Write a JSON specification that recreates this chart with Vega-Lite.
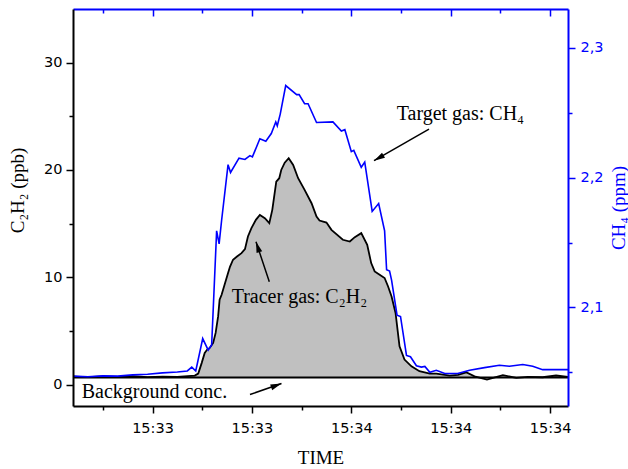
{
  "$schema": "https://vega.github.io/schema/vega-lite/v6.json",
  "width": 495,
  "height": 397,
  "autosize": "none",
  "padding": {"left": 73, "top": 9, "right": 60, "bottom": 63},
  "background": "white",
  "config": {"view": {"stroke": null}, "font": "DejaVu Sans"},
  "resolve": {
    "scale": {"y": "independent"},
    "axis": {"x": "independent", "y": "independent"}
  },
  "layer": [
    {
      "data": {
        "values": [
          {"t": "15:33:04.000", "v": 0.74}, {"t": "15:33:07.000", "v": 0.70}, {"t": "15:33:10.000", "v": 0.76},
          {"t": "15:33:13.000", "v": 0.72}, {"t": "15:33:16.000", "v": 0.78}, {"t": "15:33:19.000", "v": 0.70},
          {"t": "15:33:22.000", "v": 0.74}, {"t": "15:33:25.000", "v": 0.72}, {"t": "15:33:28.500", "v": 0.84},
          {"t": "15:33:29.200", "v": 1.02}, {"t": "15:33:29.900", "v": 2.02}, {"t": "15:33:30.500", "v": 2.95},
          {"t": "15:33:31.000", "v": 3.26}, {"t": "15:33:31.500", "v": 3.41}, {"t": "15:33:32.200", "v": 3.88},
          {"t": "15:33:32.700", "v": 4.81}, {"t": "15:33:33.200", "v": 6.35}, {"t": "15:33:33.500", "v": 7.91},
          {"t": "15:33:33.900", "v": 8.37}, {"t": "15:33:34.600", "v": 9.46}, {"t": "15:33:35.200", "v": 10.39},
          {"t": "15:33:35.600", "v": 11.0}, {"t": "15:33:36.200", "v": 11.63}, {"t": "15:33:37.000", "v": 11.93},
          {"t": "15:33:37.900", "v": 12.25}, {"t": "15:33:38.600", "v": 12.62}, {"t": "15:33:39.200", "v": 13.8},
          {"t": "15:33:39.900", "v": 14.58}, {"t": "15:33:40.800", "v": 15.35}, {"t": "15:33:41.600", "v": 15.81},
          {"t": "15:33:42.600", "v": 15.51}, {"t": "15:33:43.500", "v": 15.04}, {"t": "15:33:44.100", "v": 16.28},
          {"t": "15:33:44.900", "v": 18.91}, {"t": "15:33:45.500", "v": 19.23}, {"t": "15:33:45.900", "v": 20.0},
          {"t": "15:33:46.600", "v": 20.68}, {"t": "15:33:47.400", "v": 21.09}, {"t": "15:33:48.300", "v": 20.47},
          {"t": "15:33:49.300", "v": 19.23}, {"t": "15:33:50.600", "v": 18.14}, {"t": "15:33:52.000", "v": 16.9},
          {"t": "15:33:53.000", "v": 15.66}, {"t": "15:33:53.600", "v": 15.28}, {"t": "15:33:55.000", "v": 15.1},
          {"t": "15:33:56.000", "v": 14.42}, {"t": "15:33:58.300", "v": 13.49}, {"t": "15:33:59.700", "v": 13.33},
          {"t": "15:34:00.700", "v": 13.74}, {"t": "15:34:02.000", "v": 14.11}, {"t": "15:34:03.200", "v": 13.02},
          {"t": "15:34:04.000", "v": 11.32}, {"t": "15:34:04.700", "v": 10.54}, {"t": "15:34:05.700", "v": 10.23},
          {"t": "15:34:06.700", "v": 9.93}, {"t": "15:34:07.400", "v": 9.14}, {"t": "15:34:08.100", "v": 8.21},
          {"t": "15:34:08.900", "v": 6.67}, {"t": "15:34:09.700", "v": 3.56}, {"t": "15:34:10.700", "v": 2.33},
          {"t": "15:34:12.100", "v": 1.70}, {"t": "15:34:13.700", "v": 1.24}, {"t": "15:34:15.800", "v": 1.02},
          {"t": "15:34:17.100", "v": 1.02}, {"t": "15:34:19.800", "v": 0.84}, {"t": "15:34:21.500", "v": 0.90},
          {"t": "15:34:23.100", "v": 1.14}, {"t": "15:34:24.800", "v": 0.77}, {"t": "15:34:27.300", "v": 0.47},
          {"t": "15:34:30.500", "v": 0.87}, {"t": "15:34:33.200", "v": 0.62}, {"t": "15:34:35.500", "v": 0.72},
          {"t": "15:34:38.500", "v": 0.68}, {"t": "15:34:41.200", "v": 0.84}, {"t": "15:34:44.000", "v": 0.68}
        ],
        "format": {"parse": {"t": "date:'%H:%M:%S.%L'"}}
      },
      "mark": {"type": "area", "color": "#c0c0c0", "opacity": 1, "clip": true,
               "line": {"color": "black", "strokeWidth": 1.8}},
      "encoding": {
        "x": {
          "field": "t", "type": "temporal",
          "scale": {"domain": [
            {"year": 1900, "month": 1, "date": 1, "hours": 15, "minutes": 33, "seconds": 4},
            {"year": 1900, "month": 1, "date": 1, "hours": 15, "minutes": 34, "seconds": 43, "milliseconds": 600}
          ], "nice": false},
          "axis": {
            "orient": "bottom",
            "values": [
              {"year": 1900, "month": 1, "date": 1, "hours": 15, "minutes": 33, "seconds": 10},
              {"year": 1900, "month": 1, "date": 1, "hours": 15, "minutes": 33, "seconds": 20},
              {"year": 1900, "month": 1, "date": 1, "hours": 15, "minutes": 33, "seconds": 30},
              {"year": 1900, "month": 1, "date": 1, "hours": 15, "minutes": 33, "seconds": 40},
              {"year": 1900, "month": 1, "date": 1, "hours": 15, "minutes": 33, "seconds": 50},
              {"year": 1900, "month": 1, "date": 1, "hours": 15, "minutes": 34, "seconds": 0},
              {"year": 1900, "month": 1, "date": 1, "hours": 15, "minutes": 34, "seconds": 10},
              {"year": 1900, "month": 1, "date": 1, "hours": 15, "minutes": 34, "seconds": 20},
              {"year": 1900, "month": 1, "date": 1, "hours": 15, "minutes": 34, "seconds": 30},
              {"year": 1900, "month": 1, "date": 1, "hours": 15, "minutes": 34, "seconds": 40}
            ],
            "format": "%H:%M",
            "labelExpr": "seconds(datum.value) % 20 == 0 ? datum.label : ''",
            "tickSize": 7,
            "tickDash": {"condition": {"test": "seconds(datum.value) % 20 != 0", "value": [4, 10]}, "value": []},
            "tickColor": "black", "tickWidth": 1.5,
            "domainColor": "black", "domainWidth": 2,
            "labelFont": "DejaVu Sans", "labelFontSize": 14.5, "labelColor": "black",
            "labelPadding": 8, "labelOverlap": false, "labelFlush": false,
            "grid": false, "zindex": 1,
            "title": "TIME", "titleFont": "Liberation Serif", "titleFontSize": 19,
            "titleFontWeight": "normal", "titleColor": "black", "titlePadding": 14
          }
        },
        "y": {
          "field": "v", "type": "quantitative",
          "scale": {"domain": [-2, 35], "nice": false, "zero": false},
          "axis": {
            "orient": "left",
            "values": [0, 5, 10, 15, 20, 25, 30],
            "labelExpr": "datum.value % 10 == 0 ? datum.label : ''",
            "tickSize": 7,
            "tickDash": {"condition": {"test": "datum.value % 10 != 0", "value": [4, 10]}, "value": []},
            "tickColor": "black", "tickWidth": 1.5,
            "domainColor": "black", "domainWidth": 2,
            "labelFont": "DejaVu Sans", "labelFontSize": 14.5, "labelColor": "black",
            "labelPadding": 4, "labelOverlap": false, "labelFlush": false,
            "grid": false, "zindex": 1,
            "title": "C₂H₂ (ppb)", "titleFont": "Liberation Serif", "titleFontSize": 19,
            "titleFontWeight": "normal", "titleColor": "black", "titlePadding": 16, "titleY": 181
          }
        },
        "y2": {"datum": 0.65}
      }
    },
    {
      "data": {"values": [{"level": 0.65}]},
      "mark": {"type": "rule", "color": "black", "strokeWidth": 2},
      "encoding": {
        "y": {"field": "level", "type": "quantitative",
              "scale": {"domain": [-2, 35], "nice": false, "zero": false}, "axis": null}
      }
    },
    {
      "data": {
        "values": [
          {"t": "15:33:05.750", "v": -1.26, "label": "Background conc."},
          {"t": "15:33:35.930", "v": 7.57, "label": "Tracer gas: C₂H₂"},
          {"t": "15:34:09.130", "v": 24.65, "label": "Target gas: CH₄"}
        ],
        "format": {"parse": {"t": "date:'%H:%M:%S.%L'"}}
      },
      "mark": {"type": "text", "font": "Liberation Serif", "fontSize": 20, "align": "left", "baseline": "alphabetic", "color": "black"},
      "encoding": {
        "x": {"field": "t", "type": "temporal", "axis": null},
        "y": {"field": "v", "type": "quantitative",
              "scale": {"domain": [-2, 35], "nice": false, "zero": false}, "axis": null},
        "text": {"field": "label"}
      }
    },
    {
      "data": {
        "values": [
          {"name": "background", "t": "15:33:39.610", "v": -0.93, "t2": "15:33:45.950", "v2": 0.09},
          {"name": "tracer", "t": "15:33:43.500", "v": 9.58, "t2": "15:33:40.820", "v2": 13.31},
          {"name": "target", "t": "15:34:15.630", "v": 23.81, "t2": "15:34:04.560", "v2": 20.86}
        ],
        "format": {"parse": {"t": "date:'%H:%M:%S.%L'", "t2": "date:'%H:%M:%S.%L'"}}
      },
      "mark": {"type": "rule", "color": "black", "strokeWidth": 1.5},
      "encoding": {
        "x": {"field": "t", "type": "temporal", "axis": null},
        "y": {"field": "v", "type": "quantitative",
              "scale": {"domain": [-2, 35], "nice": false, "zero": false}, "axis": null},
        "x2": {"field": "t2"},
        "y2": {"field": "v2"}
      }
    },
    {
      "data": {"values": [{"t": "15:33:45.950", "v": 0.09}], "format": {"parse": {"t": "date:'%H:%M:%S.%L'"}}},
      "mark": {"type": "point", "shape": "M0,0L-0.27,1L0.27,1Z", "filled": true, "color": "black", "opacity": 1, "size": 484, "angle": 70},
      "encoding": {
        "x": {"field": "t", "type": "temporal", "axis": null},
        "y": {"field": "v", "type": "quantitative",
              "scale": {"domain": [-2, 35], "nice": false, "zero": false}, "axis": null}
      }
    },
    {
      "data": {"values": [{"t": "15:33:40.820", "v": 13.31}], "format": {"parse": {"t": "date:'%H:%M:%S.%L'"}}},
      "mark": {"type": "point", "shape": "M0,0L-0.27,1L0.27,1Z", "filled": true, "color": "black", "opacity": 1, "size": 484, "angle": 342},
      "encoding": {
        "x": {"field": "t", "type": "temporal", "axis": null},
        "y": {"field": "v", "type": "quantitative",
              "scale": {"domain": [-2, 35], "nice": false, "zero": false}, "axis": null}
      }
    },
    {
      "data": {"values": [{"t": "15:34:04.560", "v": 20.86}], "format": {"parse": {"t": "date:'%H:%M:%S.%L'"}}},
      "mark": {"type": "point", "shape": "M0,0L-0.27,1L0.27,1Z", "filled": true, "color": "black", "opacity": 1, "size": 484, "angle": 240},
      "encoding": {
        "x": {"field": "t", "type": "temporal", "axis": null},
        "y": {"field": "v", "type": "quantitative",
              "scale": {"domain": [-2, 35], "nice": false, "zero": false}, "axis": null}
      }
    },
    {
      "data": {
        "values": [
          {"t": "15:33:04.000", "v": 2.047}, {"t": "15:33:07.000", "v": 2.0465}, {"t": "15:33:10.000", "v": 2.0472},
          {"t": "15:33:13.000", "v": 2.047}, {"t": "15:33:16.000", "v": 2.048}, {"t": "15:33:19.000", "v": 2.0485},
          {"t": "15:33:22.000", "v": 2.0495}, {"t": "15:33:25.000", "v": 2.0502}, {"t": "15:33:27.000", "v": 2.051},
          {"t": "15:33:27.900", "v": 2.054}, {"t": "15:33:28.700", "v": 2.051}, {"t": "15:33:30.100", "v": 2.076},
          {"t": "15:33:31.200", "v": 2.067}, {"t": "15:33:31.900", "v": 2.071}, {"t": "15:33:32.900", "v": 2.159},
          {"t": "15:33:33.400", "v": 2.149}, {"t": "15:33:33.900", "v": 2.167}, {"t": "15:33:35.200", "v": 2.21},
          {"t": "15:33:35.700", "v": 2.204}, {"t": "15:33:37.400", "v": 2.215}, {"t": "15:33:38.600", "v": 2.214},
          {"t": "15:33:39.600", "v": 2.217}, {"t": "15:33:40.100", "v": 2.216}, {"t": "15:33:41.600", "v": 2.23},
          {"t": "15:33:42.800", "v": 2.228}, {"t": "15:33:43.900", "v": 2.234}, {"t": "15:33:44.800", "v": 2.243},
          {"t": "15:33:45.100", "v": 2.24}, {"t": "15:33:45.700", "v": 2.249}, {"t": "15:33:46.800", "v": 2.271},
          {"t": "15:33:49.000", "v": 2.264}, {"t": "15:33:49.500", "v": 2.264}, {"t": "15:33:50.600", "v": 2.257},
          {"t": "15:33:51.300", "v": 2.257}, {"t": "15:33:53.000", "v": 2.2425}, {"t": "15:33:56.300", "v": 2.243},
          {"t": "15:33:58.000", "v": 2.236}, {"t": "15:33:58.700", "v": 2.237}, {"t": "15:34:00.000", "v": 2.22},
          {"t": "15:34:00.500", "v": 2.221}, {"t": "15:34:02.000", "v": 2.208}, {"t": "15:34:02.700", "v": 2.212},
          {"t": "15:34:04.200", "v": 2.174}, {"t": "15:34:05.500", "v": 2.18}, {"t": "15:34:06.700", "v": 2.159},
          {"t": "15:34:07.100", "v": 2.129}, {"t": "15:34:07.700", "v": 2.128}, {"t": "15:34:08.100", "v": 2.121},
          {"t": "15:34:09.200", "v": 2.094}, {"t": "15:34:09.900", "v": 2.093}, {"t": "15:34:11.100", "v": 2.063},
          {"t": "15:34:11.900", "v": 2.062}, {"t": "15:34:13.100", "v": 2.055}, {"t": "15:34:14.100", "v": 2.054},
          {"t": "15:34:14.800", "v": 2.0545}, {"t": "15:34:15.800", "v": 2.05}, {"t": "15:34:17.100", "v": 2.0515},
          {"t": "15:34:18.800", "v": 2.049}, {"t": "15:34:21.400", "v": 2.049}, {"t": "15:34:23.800", "v": 2.0515},
          {"t": "15:34:26.800", "v": 2.0536}, {"t": "15:34:29.800", "v": 2.0554}, {"t": "15:34:31.800", "v": 2.0546},
          {"t": "15:34:34.500", "v": 2.056}, {"t": "15:34:36.500", "v": 2.0546}, {"t": "15:34:38.500", "v": 2.052},
          {"t": "15:34:44.000", "v": 2.052}
        ],
        "format": {"parse": {"t": "date:'%H:%M:%S.%L'"}}
      },
      "mark": {"type": "line", "color": "#0000ff", "strokeWidth": 1.6, "clip": true},
      "encoding": {
        "x": {
          "field": "t", "type": "temporal",
          "axis": {
            "orient": "top",
            "values": [
              {"year": 1900, "month": 1, "date": 1, "hours": 15, "minutes": 33, "seconds": 10},
              {"year": 1900, "month": 1, "date": 1, "hours": 15, "minutes": 33, "seconds": 20},
              {"year": 1900, "month": 1, "date": 1, "hours": 15, "minutes": 33, "seconds": 30},
              {"year": 1900, "month": 1, "date": 1, "hours": 15, "minutes": 33, "seconds": 40},
              {"year": 1900, "month": 1, "date": 1, "hours": 15, "minutes": 33, "seconds": 50},
              {"year": 1900, "month": 1, "date": 1, "hours": 15, "minutes": 34, "seconds": 0},
              {"year": 1900, "month": 1, "date": 1, "hours": 15, "minutes": 34, "seconds": 10},
              {"year": 1900, "month": 1, "date": 1, "hours": 15, "minutes": 34, "seconds": 20},
              {"year": 1900, "month": 1, "date": 1, "hours": 15, "minutes": 34, "seconds": 30},
              {"year": 1900, "month": 1, "date": 1, "hours": 15, "minutes": 34, "seconds": 40}
            ],
            "labels": false,
            "tickSize": -7,
            "tickDash": {"condition": {"test": "seconds(datum.value) % 20 != 0", "value": [4, 10]}, "value": []},
            "tickColor": "#0000ff", "tickWidth": 1.5,
            "domainColor": "#0000ff", "domainWidth": 2,
            "grid": false, "zindex": 1, "title": null
          }
        },
        "y": {
          "field": "v", "type": "quantitative",
          "scale": {"domain": [2.024, 2.33], "nice": false, "zero": false},
          "axis": {
            "orient": "right",
            "values": [2.05, 2.1, 2.15, 2.2, 2.25, 2.3],
            "labelExpr": "abs(datum.value * 10 - round(datum.value * 10)) < 0.001 ? replace(format(datum.value, '.1f'), '.', ',') : ''",
            "tickSize": 7,
            "tickDash": {"condition": {"test": "abs(datum.value * 10 - round(datum.value * 10)) > 0.001", "value": [4, 10]}, "value": []},
            "tickColor": "#0000ff", "tickWidth": 1.5,
            "domainColor": "#0000ff", "domainWidth": 2,
            "labelFont": "DejaVu Sans", "labelFontSize": 14.5, "labelColor": "#0000ff",
            "labelPadding": 5, "labelOverlap": false, "labelFlush": false,
            "grid": false, "zindex": 1,
            "title": "CH₄ (ppm)", "titleFont": "Liberation Serif", "titleFontSize": 19,
            "titleFontWeight": "normal", "titleColor": "#0000ff", "titlePadding": 6,
            "titleAngle": 270, "titleBaseline": "top"
          }
        }
      }
    }
  ]
}
